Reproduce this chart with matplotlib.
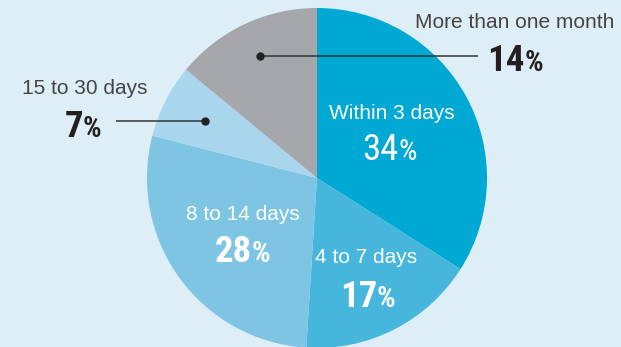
import numpy as np
import matplotlib.pyplot as plt

# Share of responses by time taken
categories = ["Within 3 days", "4 to 7 days", "8 to 14 days", "15 to 30 days", "More than one month"]
values = [34, 17, 28, 7, 14]
colors = ["#00a8d4", "#46b6dd", "#7ec4e3", "#a9d6ec", "#a6a7ab"]

W, H = 621, 347
BG = "#ddeef6"
CX, CY, R = 317, 178, 170

fig = plt.figure(figsize=(W / 100, H / 100), dpi=100, facecolor=BG)
ax = fig.add_axes([0, 0, 1, 1])
ax.set_facecolor(BG)

def Y(y):
    return H - y

wedges, _ = ax.pie(values, colors=colors, startangle=90, counterclock=False,
                   center=(CX, Y(CY)), radius=R,
                   wedgeprops=dict(linewidth=0))
ax.set_xlim(0, W)
ax.set_ylim(0, H)
ax.set_aspect("equal")
ax.axis("off")

label_font = ["Liberation Sans", "DejaVu Sans"]
num_font = ["Roboto Condensed", "DejaVu Sans"]
DARK = "#444444"
NUMDARK = "#231f20"

def label(x, y, s, color, ha="left"):
    ax.text(x, Y(y), s, fontsize=15, color=color, family=label_font,
            ha=ha, va="baseline")

def pct(x, y, v, color, weight="bold"):
    # x: boundary between digits and the percent sign
    ax.text(x, Y(y), f"{v}", fontsize=26.5, fontweight=weight, color=color,
            family=num_font, ha="right", va="baseline")
    ax.text(x, Y(y), "%", fontsize=21, fontweight=weight, color=color,
            family=num_font, ha="left", va="baseline")

# Inside labels
label(329, 119, categories[0], "white")
pct(398, 160, values[0], "white", weight="normal")
label(315, 263, categories[1], "white")
pct(377, 307, values[1], "white")
label(186, 220, categories[2], "white")
pct(252, 262, values[2], "white")

# Outside labels
label(22, 94, categories[3], DARK)
pct(83, 137, values[3], NUMDARK)
label(614, 28, categories[4], DARK, ha="right")
pct(525, 71, values[4], NUMDARK)

# Leader lines with dots, placed along each slice's mid-angle
cum = np.cumsum([0] + values)
total = sum(values)

def anchor(i, frac):
    mid = (cum[i] + cum[i + 1]) / 2 / total * 360
    ang = np.deg2rad(90 - mid)
    return CX + frac * R * np.cos(ang), Y(CY) + frac * R * np.sin(ang)

gx, gy = anchor(4, 0.79)
ax.plot([gx, 478], [gy, gy], color="#333333", lw=1.1, solid_capstyle="butt")
ax.plot(gx, gy, "o", color="#222222", ms=5)

lx, ly = anchor(3, 0.74)
ax.plot([116, lx], [ly, ly], color="#333333", lw=1.1, solid_capstyle="butt")
ax.plot(lx, ly, "o", color="#222222", ms=5)

fig.savefig("out.png", dpi=100, facecolor=BG)
